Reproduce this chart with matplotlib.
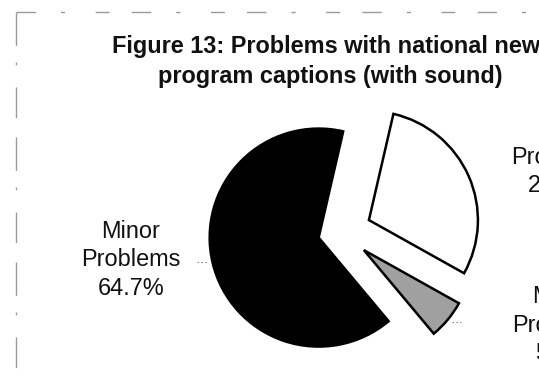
import matplotlib
matplotlib.use("Agg")
import matplotlib.pyplot as plt
from matplotlib.lines import Line2D

# Share of national news program captions (with sound) by problem level
categories = ["No\nProblems", "Major\nProblems", "Minor\nProblems"]
shares = [29.5, 5.8, 64.7]
pct_labels = ["29.5%", "5.8%", "64.7%"]
colors = ["white", "#a0a0a0", "black"]
explode_frac = [0.27, 0.26, 0.22]

title_line1 = "Figure 13: Problems with national news"
title_line2 = "program captions (with sound)"

W, H = 539, 378
fig = plt.figure(figsize=(W / 100, H / 100), dpi=100)
ax = fig.add_axes([0, 0, 1, 1])

cx, cy, r = 342, H - 232, 109
# pie() offsets wedges by explode in data units, so scale by the radius
wedges, _ = ax.pie(
    shares, colors=colors, explode=[e * r for e in explode_frac],
    startangle=77, counterclock=False, center=(cx, cy), radius=r,
    wedgeprops=dict(edgecolor="black", linewidth=1.8, joinstyle="miter"),
)
ax.set_xlim(0, W)
ax.set_ylim(0, H)
ax.set_aspect("equal")
ax.axis("off")

font = "Liberation Sans"
label_kw = dict(ha="center", va="center", fontsize=16.9, family=font,
                linespacing=1.33, color="#111111")
# slice labels (the right-hand ones run past the figure edge)
ax.text(561, H - 157, categories[0] + "\n" + pct_labels[0], **label_kw)
ax.text(562, H - 325, categories[1] + "\n" + pct_labels[1], **label_kw)
ax.text(131, H - 260, categories[2] + "\n" + pct_labels[2], **label_kw)

# dotted leader lines
ax.plot([197, 207], [H - 262, H - 262], color="#888888", lw=0.8, ls=(0, (1.5, 2)))
ax.plot([452, 461], [H - 322, H - 322], color="#888888", lw=0.8, ls=(0, (1.5, 2)))

# title
title_kw = dict(ha="center", va="center", fontsize=16.9, fontweight="bold",
                family=font, color="#111111")
ax.text(333, H - 47, title_line1, **title_kw)
ax.text(330, H - 77, title_line2, **title_kw)

# faint broken chart-area border
border_kw = dict(color="#9a9a9a", lw=1.0, solid_capstyle="butt")
ax.add_line(Line2D([16, W], [H - 12, H - 12], ls=(0, (14, 18, 3, 22, 10, 16)), **border_kw))
ax.add_line(Line2D([16, 16], [H - 12, 0], ls=(0, (24, 12, 2, 16, 22, 14)), **border_kw))

fig.savefig("out.png", dpi=100)
